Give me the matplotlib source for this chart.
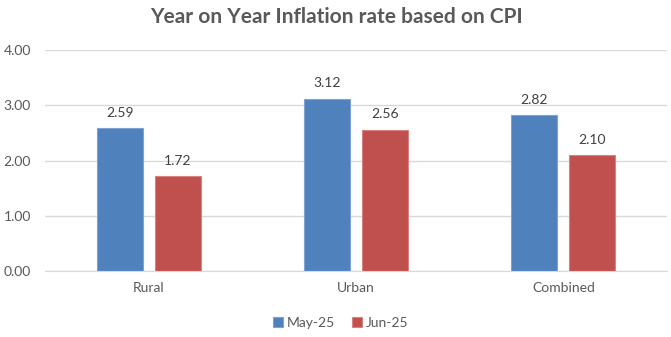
import matplotlib.pyplot as plt
import numpy as np

categories = ["Rural", "Urban", "Combined"]
may25 = [2.59, 3.12, 2.82]
jun25 = [1.72, 2.56, 2.10]
series_names = ["May-25", "Jun-25"]
yticks = [0, 1, 2, 3, 4]

plt.rcParams['font.family'] = ['Lato', 'DejaVu Sans']
grey = '#595959'

fig = plt.figure(figsize=(6.71, 3.37), dpi=100)
ax = fig.add_axes([45/671, 66/337, 622/671, 221/337])

x = np.arange(len(categories))
w = 0.222
off = 0.14
b1 = ax.bar(x - off, may25, w, color='#4F81BD', edgecolor='#7FA3D0', linewidth=0.8, label=series_names[0])
b2 = ax.bar(x + off, jun25, w, color='#C0504D', edgecolor='#D88380', linewidth=0.8, label=series_names[1])

for bars, vals in ((b1, may25), (b2, jun25)):
    for r, v in zip(bars, vals):
        ax.text(r.get_x() + r.get_width()/2, v + 0.17, f"{v:.2f}", ha='center', va='bottom',
                fontsize=10, color='#404040')

ax.set_xlim(-0.5, 2.5)
ax.set_ylim(0, 4)
ax.set_yticks(yticks)
ax.set_yticklabels([f"{t:.2f}" for t in yticks])
ax.set_xticks(x)
ax.set_xticklabels(categories)
ax.tick_params(axis='both', length=0, labelsize=10, colors=grey)
ax.tick_params(axis='y', pad=10)
ax.tick_params(axis='x', pad=8)
ax.grid(axis='y', color='#D9D9D9', linewidth=1)
ax.set_axisbelow(True)
for s in ['top', 'right', 'left']:
    ax.spines[s].set_visible(False)
ax.spines['bottom'].set_color('#D9D9D9')

fig.text(336/671, 1 - 17/337, "Year on Year Inflation rate based on CPI", ha='center', va='center',
         fontsize=15, fontweight='bold', color=grey)

fig.legend(loc='center', bbox_to_anchor=(341/671, 1 - 323/337), ncol=2, frameon=False,
           fontsize=10, handlelength=0.7, handleheight=0.7, handletextpad=0.3, columnspacing=1.2,
           labelcolor=grey)

fig.savefig("out.png", dpi=100)
